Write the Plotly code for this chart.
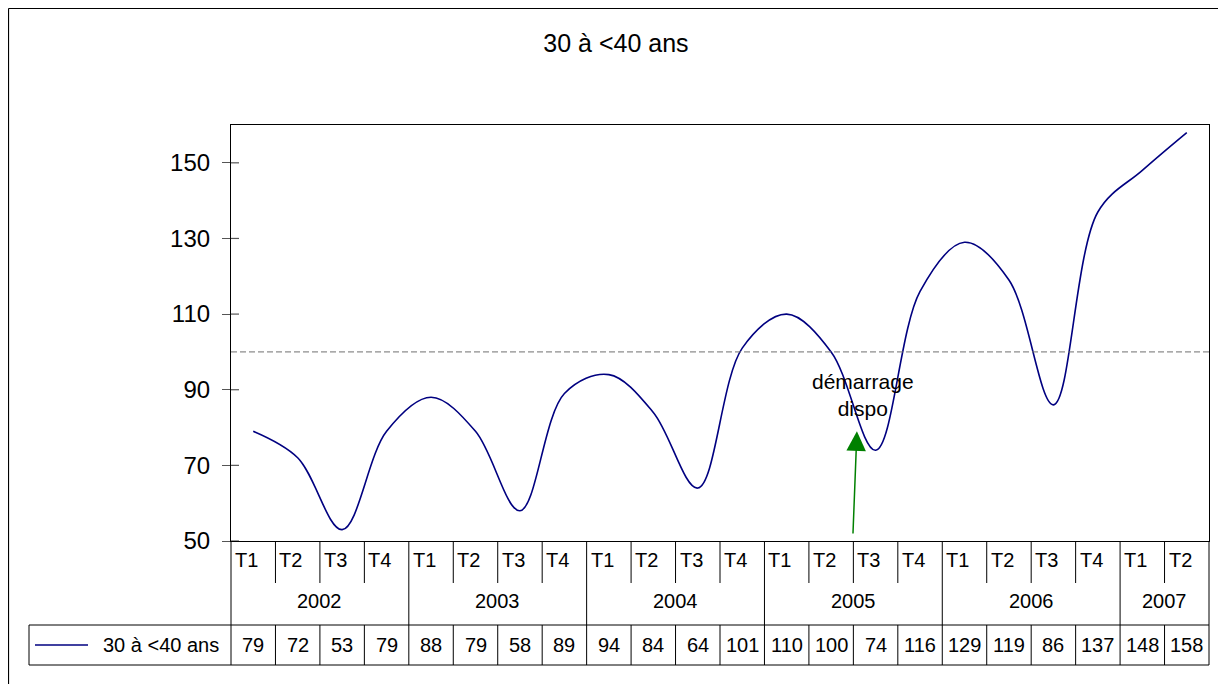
import plotly.graph_objects as go

# ---- data ----
quarters = ["T1", "T2", "T3", "T4", "T1", "T2", "T3", "T4", "T1", "T2", "T3", "T4",
            "T1", "T2", "T3", "T4", "T1", "T2", "T3", "T4", "T1", "T2"]
years = ["2002", "2003", "2004", "2005", "2006", "2007"]
quarters_per_year = [4, 4, 4, 4, 4, 2]
values = [79, 72, 53, 79, 88, 79, 58, 89, 94, 84, 64, 101,
          110, 100, 74, 116, 129, 119, 86, 137, 148, 158]
y_ticks = [50, 70, 90, 110, 130, 150]
series_name = "30 à <40 ans"
reference_level = 100
annotation_text = "démarrage<br>dispo"

# ---- geometry helpers (screen coords measured on the page; page has an 8px body offset) ----
W, H = 1226, 684
OFF = 8
L, R, T, B = 223, 25, 117, 151
PW, PH = W - L - R, H - T - B
XMIN, XMAX = -0.5, len(values) - 0.5
YMIN, YMAX = 50, 160
FONT = "Arial, Liberation Sans, sans-serif"


def px_x(sx):
    return (sx - OFF - L) / PW


def px_y(sy):
    return (H - B - (sy - OFF)) / PH


def x2p(v):
    return (v - XMIN) / (XMAX - XMIN)


idx = list(range(len(values)))
fig = go.Figure()
fig.add_trace(go.Scatter(x=idx, y=values, mode="lines", name=series_name,
                         line=dict(color="#000080", width=1.6, shape="spline", smoothing=1.0),
                         showlegend=False, hoverinfo="skip"))

shapes = []
# reference dashed line
shapes.append(dict(type="line", xref="paper", yref="y", x0=0, x1=1, y0=reference_level, y1=reference_level,
                   line=dict(color="#707070", width=1, dash="6px,3px")))
# inner halves of the crossing tick marks
for v in y_ticks:
    shapes.append(dict(type="line", xref="paper", yref="y", x0=0, x1=8 / PW, y0=v, y1=v,
                       line=dict(color="#555555", width=1.2)))

# table lines
y_axis = 0
y_qrow = px_y(583)
y_yrow = px_y(625)
y_drow = px_y(665)
year_bounds = [0]
for n in quarters_per_year:
    year_bounds.append(year_bounds[-1] + n)
for k in range(len(values) + 1):
    xb = x2p(k - 0.5)
    ybot = y_yrow if k in year_bounds else y_qrow
    shapes.append(dict(type="line", xref="paper", yref="paper", x0=xb, x1=xb, y0=y_axis, y1=ybot,
                       line=dict(color="#000000", width=1)))
    shapes.append(dict(type="line", xref="paper", yref="paper", x0=xb, x1=xb, y0=y_yrow, y1=y_drow,
                       line=dict(color="#000000", width=1)))
for yy in (y_yrow, y_drow):
    shapes.append(dict(type="line", xref="paper", yref="paper", x0=px_x(29), x1=1, y0=yy, y1=yy,
                       line=dict(color="#000000", width=1)))
shapes.append(dict(type="line", xref="paper", yref="paper", x0=px_x(29), x1=px_x(29), y0=y_yrow, y1=y_drow,
                   line=dict(color="#000000", width=1)))
# legend key
shapes.append(dict(type="line", xref="paper", yref="paper", x0=px_x(35), x1=px_x(88),
                   y0=px_y(645), y1=px_y(645), line=dict(color="#000080", width=1.6)))
# outer chart border
shapes.append(dict(type="line", xref="paper", yref="paper", x0=px_x(8.5), x1=px_x(8.5), y0=px_y(8.5),
                   y1=px_y(720), line=dict(color="#000000", width=1.2)))
shapes.append(dict(type="line", xref="paper", yref="paper", x0=px_x(8.5), x1=px_x(1260), y0=px_y(8.5),
                   y1=px_y(8.5), line=dict(color="#000000", width=1.2)))

annotations = []
tf = dict(family=FONT, size=20, color="#000000")
for i, q in enumerate(quarters):
    annotations.append(dict(x=i - 0.5, y=px_y(560), xref="x", yref="paper", text=q, showarrow=False,
                            xanchor="left", yanchor="middle", xshift=2, font=tf))
    annotations.append(dict(x=i, y=px_y(645), xref="x", yref="paper", text=str(values[i]), showarrow=False,
                            xanchor="center", yanchor="middle", font=tf))
for j, yr in enumerate(years):
    center = (year_bounds[j] + year_bounds[j + 1] - 1) / 2
    annotations.append(dict(x=center, y=px_y(601), xref="x", yref="paper", text=yr, showarrow=False,
                            xanchor="center", yanchor="middle", font=tf))
annotations.append(dict(x=px_x(221), y=px_y(645), xref="paper", yref="paper", text=series_name,
                        showarrow=False, xanchor="right", yanchor="middle", font=tf))
# arrow + label
annotations.append(dict(x=13.58, y=79.0, xref="x", yref="y", ax=13.49, ay=51.6, axref="x", ayref="y",
                        text="", showarrow=True, arrowhead=2, arrowsize=2.6, arrowwidth=1.5,
                        arrowcolor="#008000", standoff=0))
annotations.append(dict(x=13.72, y=88.5, xref="x", yref="y", text=annotation_text, showarrow=False,
                        xanchor="center", yanchor="middle", font=dict(family=FONT, size=21, color="#000000")))

fig.update_layout(
    width=W, height=H,
    margin=dict(l=L, r=R, t=T, b=B, pad=0),
    paper_bgcolor="white", plot_bgcolor="white",
    title=dict(text=series_name, x=(616 - OFF) / W, xanchor="center", y=1 - (43 - OFF) / H,
               yanchor="middle", font=dict(family=FONT, size=25, color="#000000")),
    xaxis=dict(range=[XMIN, XMAX], showgrid=False, zeroline=False, showticklabels=False, ticks="",
               showline=True, linecolor="#000000", linewidth=1, mirror=True, fixedrange=True),
    yaxis=dict(range=[YMIN, YMAX], tickvals=y_ticks, showgrid=False, zeroline=False,
               ticks="outside", ticklen=8, tickcolor="#555555", tickwidth=1.2,
               showline=True, linecolor="#000000", linewidth=1.2, mirror=True,
               tickfont=dict(family=FONT, size=24, color="#000000"), ticklabelstandoff=7),
    shapes=shapes, annotations=annotations, showlegend=False,
)

fig.write_html("out.html")
